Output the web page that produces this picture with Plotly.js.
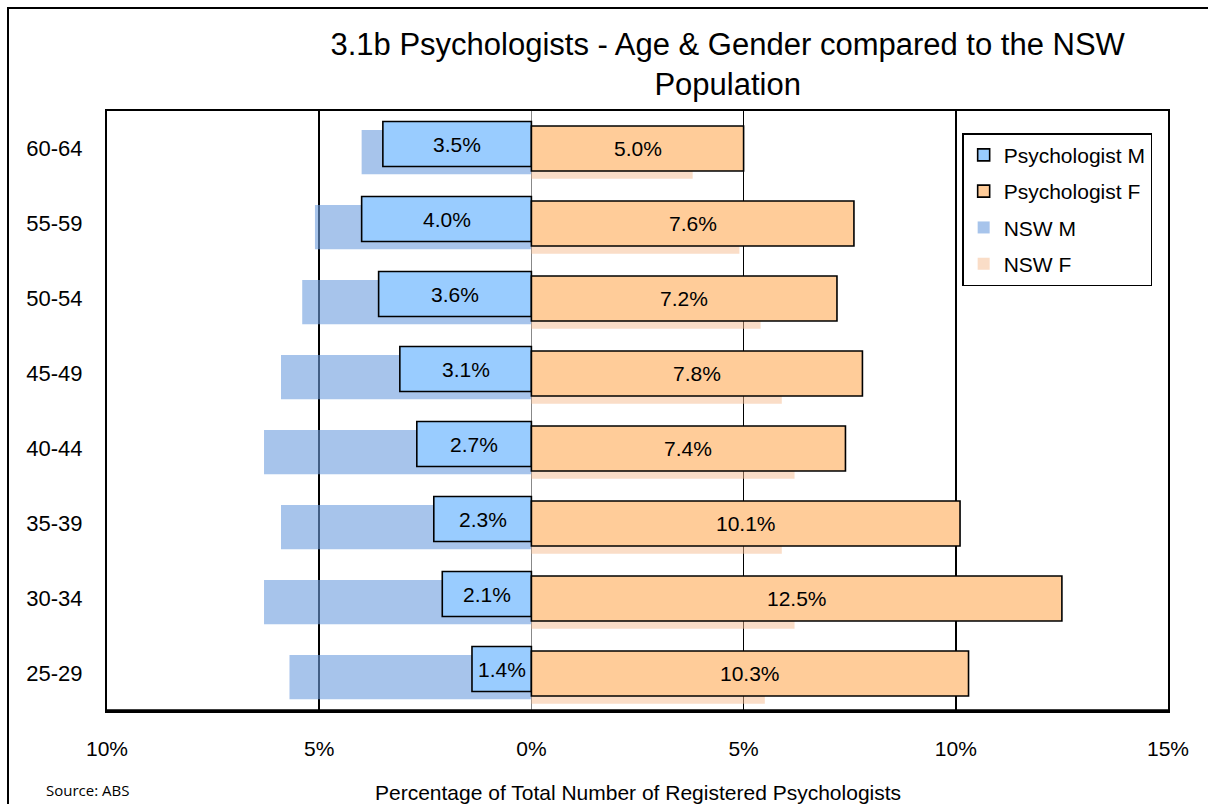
<!DOCTYPE html>
<html>
<head>
<meta charset="utf-8">
<script src="https://cdn.plot.ly/plotly-3.0.1.min.js"></script>
<style>
  body { margin: 0; background: #fff; }
  #chart { width: 1208px; height: 804px; position: absolute; left: 0; top: 0; }
  #frame { position: absolute; left: 7px; top: 7px; width: 1300px; height: 900px;
           border-left: 2px solid #000; border-top: 2px solid #000; pointer-events: none; }
</style>
</head>
<body>
<div id="chart"></div>
<div id="frame"></div>
<script>
// Categories listed bottom to top
const categories = ['25-29', '30-34', '35-39', '40-44', '45-49', '50-54', '55-59', '60-64'];
const psychM = [1.4, 2.1, 2.3, 2.7, 3.1, 3.6, 4.0, 3.5];
const psychF = [10.3, 12.5, 10.1, 7.4, 7.8, 7.2, 7.6, 5.0];
const nswM = [5.7, 6.3, 5.9, 6.3, 5.9, 5.4, 5.1, 4.0];
const nswF = [5.5, 6.2, 5.9, 6.2, 5.9, 5.4, 4.9, 3.8];
const xTickVals = [-10, -5, 0, 5, 10, 15];
const xTickText = ['10%', '5%', '0%', '5%', '10%', '15%'];

const pos = categories.map((c, i) => i);
const FONT = 'Liberation Sans, Arial, sans-serif';

const traces = [
  {
    type: 'bar', orientation: 'h', name: 'NSW M', legendrank: 3, legendgroup: 'c',
    y: pos, x: nswM.map(v => -v), width: 0.59, offset: -0.342,
    marker: { color: 'rgb(110,158,223)', line: { width: 0 } }, opacity: 0.6,
    hoverinfo: 'skip'
  },
  {
    type: 'bar', orientation: 'h', name: 'NSW F', legendrank: 4, legendgroup: 'd',
    y: pos, x: nswF, width: 0.59, offset: -0.402,
    marker: { color: 'rgb(247,189,145)', line: { width: 0 } }, opacity: 0.5,
    hoverinfo: 'skip'
  },
  {
    type: 'bar', orientation: 'h', name: 'Psychologist M', legendrank: 1, legendgroup: 'a',
    y: pos, x: psychM.map(v => -v), width: 0.6, offset: -0.24,
    marker: { color: '#99ccff', line: { color: '#000', width: 1.6 } },
    hoverinfo: 'skip'
  },
  {
    type: 'bar', orientation: 'h', name: 'Psychologist F', legendrank: 2, legendgroup: 'b',
    y: pos, x: psychF, width: 0.6, offset: -0.3,
    marker: { color: '#ffcc99', line: { color: '#000', width: 1.6 } },
    hoverinfo: 'skip'
  }
];

const annotations = [];
pos.forEach((p, i) => {
  annotations.push({
    xref: 'x', yref: 'y', x: -psychM[i] / 2, y: p + 0.06, text: psychM[i].toFixed(1) + '%',
    showarrow: false, font: { family: FONT, size: 21, color: '#000' }
  });
  annotations.push({
    xref: 'x', yref: 'y', x: psychF[i] / 2, y: p, text: psychF[i].toFixed(1) + '%',
    showarrow: false, font: { family: FONT, size: 21, color: '#000' }
  });
});
annotations.push({
  xref: 'paper', yref: 'paper', x: 0.5, y: -0.135, xanchor: 'center', yanchor: 'middle',
  text: 'Percentage of Total Number of Registered Psychologists', showarrow: false,
  font: { family: FONT, size: 21, color: '#000' }
});
annotations.push({
  xref: 'paper', yref: 'paper', x: -0.059, y: -0.132, xanchor: 'left', yanchor: 'middle',
  text: 'Source: ABS', showarrow: false,
  font: { family: 'Open Sans, Lato, sans-serif', size: 15, color: '#000' }
});

const layout = {
  width: 1208, height: 804,
  margin: { l: 107, r: 40, t: 111, b: 93, pad: 0 },
  paper_bgcolor: '#fff', plot_bgcolor: '#fff',
  barmode: 'overlay',
  showlegend: true,
  font: { family: FONT, color: '#000' },
  title: {
    text: '3.1b Psychologists - Age & Gender compared to the NSW<br>Population',
    font: { family: FONT, size: 31, color: '#000' },
    xref: 'paper', x: 0.585, xanchor: 'center',
    yref: 'container', y: 0.932, yanchor: 'middle'
  },
  xaxis: {
    range: [-10, 15], tickvals: xTickVals, ticktext: xTickText,
    showgrid: true, gridcolor: '#000', gridwidth: 1.5,
    zeroline: true, zerolinecolor: '#888', zerolinewidth: 1.5,
    showline: true, mirror: true, linecolor: '#000', linewidth: 2,
    ticks: '', ticklabelstandoff: 18,
    tickfont: { family: FONT, size: 21, color: '#000' },
    fixedrange: true
  },
  yaxis: {
    range: [-0.5, 7.5], tickvals: pos, ticktext: categories,
    showgrid: false, zeroline: false,
    showline: true, mirror: true, linecolor: '#000', linewidth: 2,
    ticks: '', ticklabelstandoff: 18,
    tickfont: { family: FONT, size: 22, color: '#000' },
    fixedrange: true
  },
  legend: {
    xref: 'paper', yref: 'paper', x: 0.806, y: 0.963, xanchor: 'left', yanchor: 'top',
    bgcolor: '#fff', bordercolor: '#000', borderwidth: 1.5,
    font: { family: FONT, size: 21, color: '#000' },
    traceorder: 'grouped', tracegroupgap: 6
  },
  shapes: [
    { type: 'line', xref: 'paper', yref: 'paper', x0: 0, x1: 1, y0: 0, y1: 0,
      line: { color: '#000', width: 3.5 } }
  ],
  annotations: annotations
};

Plotly.newPlot('chart', traces, layout, { displayModeBar: false, staticPlot: true });
</script>
</body>
</html>
